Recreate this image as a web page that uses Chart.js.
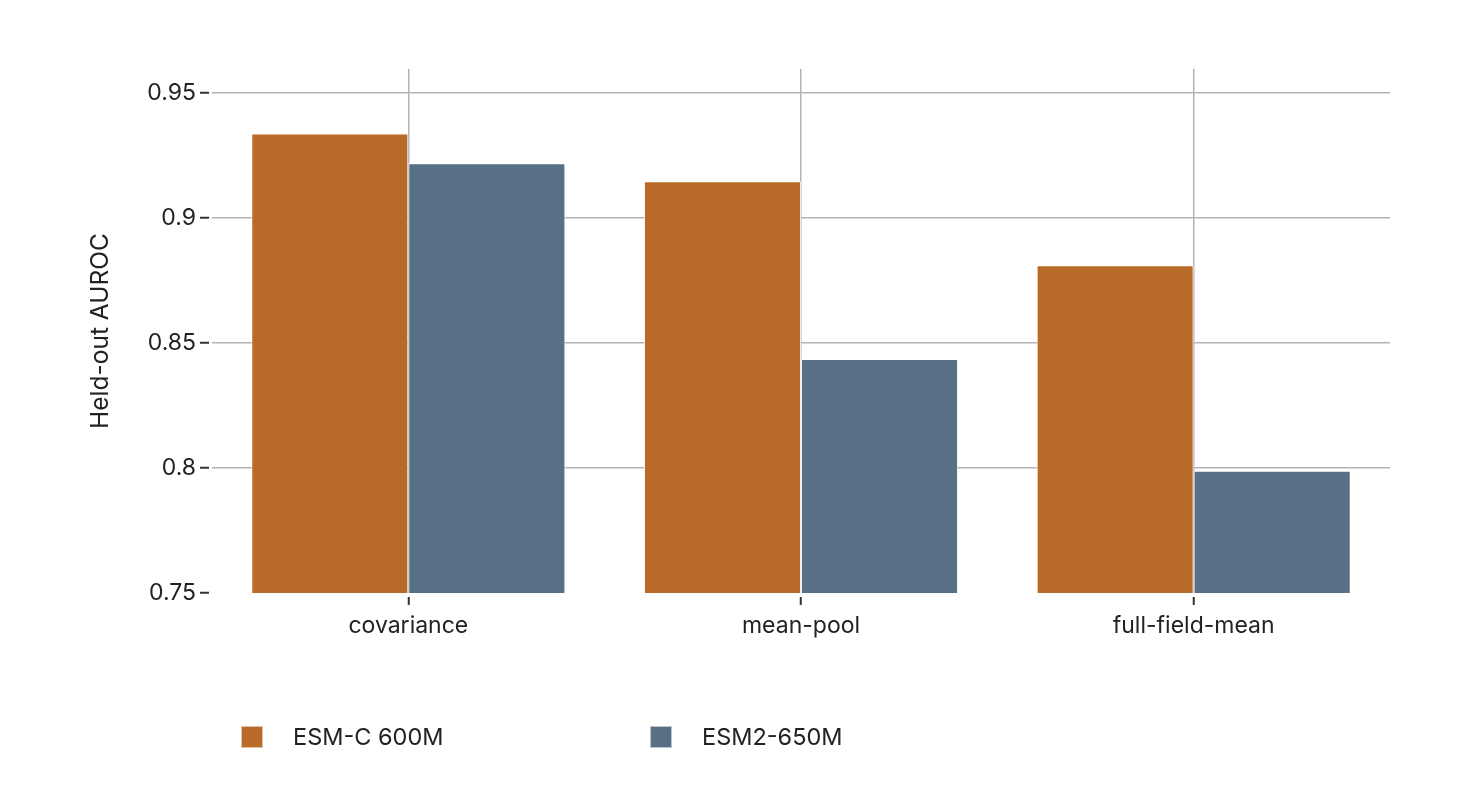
<!DOCTYPE html>
<html>
<head>
<meta charset="utf-8">
<script src="https://cdn.jsdelivr.net/npm/chart.js@4.4.1/dist/chart.umd.min.js"></script>
<style>
  html, body { margin: 0; padding: 0; background: #ffffff; }
  #wrap { position: relative; width: 1458px; height: 792px; }
  #legend { position: absolute; left: 241px; top: 726px; display: flex; font-family: Inter, "Noto Sans", sans-serif; font-size: 23.5px; color: #222; }
  .item { display: flex; align-items: center; width: 409px; height: 22px; }
  .box { width: 20px; height: 20px; border: 1px solid rgba(255,255,255,0.6); box-sizing: content-box; }
  .lbl { margin-left: 30px; line-height: 22px; }
</style>
</head>
<body>
<div id="wrap">
  <canvas id="c" width="1458" height="792"></canvas>
  <div id="legend"></div>
</div>
<script>
const categories = ["covariance", "mean-pool", "full-field-mean"];
const seriesNames = ["ESM-C 600M", "ESM2-650M"];
const esmC600M = [0.9337, 0.9146, 0.8810];
const esm2650M = [0.9218, 0.8436, 0.7989];
const seriesColors = ["#b86b29", "#577086"];
const yTicks = [0.75, 0.8, 0.85, 0.9, 0.95];
const yTickLabels = ["0.75", "0.8", "0.85", "0.9", "0.95"];
const yTitle = "Held-out AUROC";

const FONT = "Inter, 'Noto Sans', sans-serif";
const TEXT = "#222222";
const GRID = "#b3b3b3";

const chart = new Chart(document.getElementById("c"), {
  type: "bar",
  data: {
    labels: categories,
    datasets: [
      { label: seriesNames[0], data: esmC600M, backgroundColor: seriesColors[0], borderColor: "rgba(255,255,255,0.75)", borderWidth: 1, borderSkipped: false },
      { label: seriesNames[1], data: esm2650M, backgroundColor: seriesColors[1], borderColor: "rgba(255,255,255,0.75)", borderWidth: 1, borderSkipped: false }
    ]
  },
  options: {
    responsive: false,
    animation: false,
    devicePixelRatio: 1,
    layout: { padding: { left: 86, right: 68, top: 69, bottom: 139 } },
    datasets: { bar: { categoryPercentage: 0.8, barPercentage: 1.0 } },
    plugins: { legend: { display: false }, tooltip: { enabled: false } },
    scales: {
      x: {
        offset: true,
        border: { display: false },
        grid: {
          offset: false,
          color: GRID,
          lineWidth: 1.5,
          drawTicks: true,
          tickLength: 12,
          tickColor: "#333333",
          tickWidth: 2,
          tickBorderDash: [0, 4, 8, 100]
        },
        ticks: { color: TEXT, font: { family: FONT, size: 23 }, padding: 7 },
        afterFit: (s) => { s.height = 60; }
      },
      y: {
        min: 0.75,
        max: 0.9595,
        border: { display: false },
        grid: {
          color: (ctx) => (ctx.tick && Math.abs(ctx.tick.value - yTicks[0]) < 1e-9) ? "rgba(0,0,0,0)" : GRID,
          lineWidth: 1.5,
          drawTicks: true,
          tickLength: 12,
          tickColor: "#333333",
          tickWidth: 2,
          tickBorderDash: [9, 100]
        },
        afterBuildTicks: (s) => { s.ticks = yTicks.map(v => ({ value: v })); },
        ticks: {
          color: TEXT,
          font: { family: FONT, size: 23 },
          padding: 4,
          callback: (v) => { const i = yTicks.findIndex(t => Math.abs(t - v) < 1e-9); return i >= 0 ? yTickLabels[i] : ""; }
        },
        title: { display: true, text: yTitle, color: TEXT, font: { family: FONT, size: 24.5 }, padding: { top: 0, bottom: 0 } },
        afterFit: (s) => { s.width = 126; }
      }
    }
  }
});

const legend = document.getElementById("legend");
chart.data.datasets.forEach((ds) => {
  const it = document.createElement("div"); it.className = "item";
  const b = document.createElement("div"); b.className = "box"; b.style.background = ds.backgroundColor;
  const t = document.createElement("div"); t.className = "lbl"; t.textContent = ds.label;
  it.appendChild(b); it.appendChild(t); legend.appendChild(it);
});
</script>
</body>
</html>
